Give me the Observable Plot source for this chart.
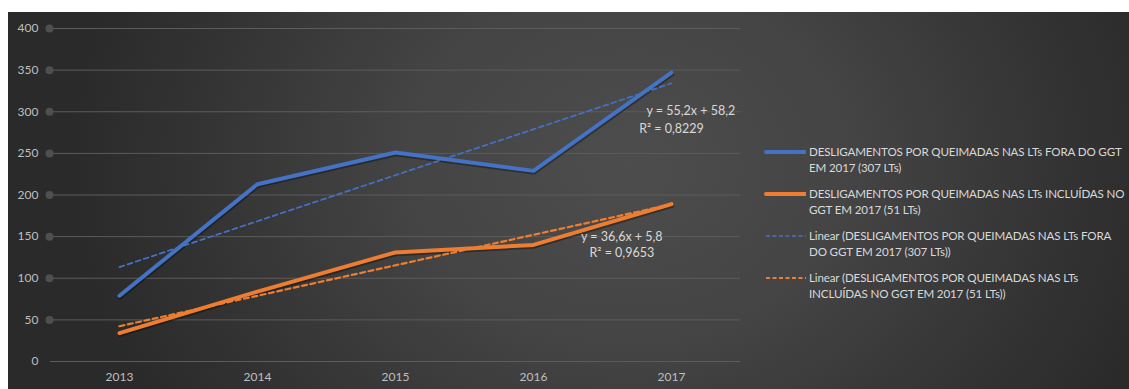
<!DOCTYPE html>
<html>
<head>
<meta charset="utf-8">
<script src="https://cdn.jsdelivr.net/npm/d3@7"></script>
<script src="https://cdn.jsdelivr.net/npm/@observablehq/plot@0.6"></script>
<style>
  html, body { margin: 0; padding: 0; background: #fff; }
  #wrap { position: absolute; left: 8px; top: 12px; width: 1121px; height: 377px;
    background: radial-gradient(ellipse 560px 460px at 620px 150px, #4d4d4d 0%, #444 40%, #343434 75%, #2a2a2a 100%);
    overflow: hidden; font-family: Lato, "Open Sans", sans-serif; }
  #legend { position: absolute; left: 756px; top: 132px; width: 365px; color: #d9d9d9; font-size: 11.6px; line-height: 16px; }
  .item { display: flex; align-items: flex-start; margin-bottom: 10px; }
  .sw { flex: none; width: 42px; height: 16px; margin-right: 3px; position: relative; }
  .sw svg { position: absolute; left: 0; top: 0; }
  .txt { flex: 1; letter-spacing: -0.15px; }
</style>
</head>
<body>
<div id="wrap"><div id="chart"></div><div id="legend"></div></div>
<script>
const years = [2013, 2014, 2015, 2016, 2017];
const foraGGT = [79, 213, 251, 229, 347];
const noGGT = [34, 84, 131, 140, 189];
const seriesNames = [
  "DESLIGAMENTOS POR QUEIMADAS NAS LTs FORA DO GGT EM 2017 (307 LTs)",
  "DESLIGAMENTOS POR QUEIMADAS NAS LTs INCLUÍDAS NO GGT EM 2017 (51 LTs)"
];
const trendNames = [
  "Linear (DESLIGAMENTOS POR QUEIMADAS NAS LTs FORA DO GGT EM 2017 (307 LTs))",
  "Linear (DESLIGAMENTOS POR QUEIMADAS NAS LTs INCLUÍDAS NO GGT EM 2017 (51 LTs))"
];
const colors = ["#4472c4", "#ed7d31"];
const yTicks = [0, 50, 100, 150, 200, 250, 300, 350, 400];
const eqLabels = [
  {x: 2017.14, y: 301, text: "y = 55,2x + 58,2"},
  {x: 2017.0, y: 279, text: "R² = 0,8229"},
  {x: 2016.64, y: 149, text: "y = 36,6x + 5,8"},
  {x: 2016.64, y: 130, text: "R² = 0,9653"}
];

const rows = [];
years.forEach((yr, i) => {
  rows.push({year: yr, value: foraGGT[i], s: 0});
  rows.push({year: yr, value: noGGT[i], s: 1});
});
const s0 = rows.filter(d => d.s === 0), s1 = rows.filter(d => d.s === 1);

const chart = Plot.plot({
  width: 1121, height: 377,
  marginLeft: 42, marginRight: 389, marginTop: 16, marginBottom: 28,
  style: {background: "transparent", fontFamily: "Lato, 'Open Sans', sans-serif", fontSize: "12px", color: "#bfbfbf"},
  x: {domain: [2012.5, 2017.5], ticks: years, tickFormat: d => String(d), tickSize: 0, tickPadding: 12},
  y: {domain: [0, 400], ticks: yTicks, tickSize: 0, tickPadding: 12},
  marks: [
    Plot.ruleY(yTicks, {stroke: "#5c5c5c", strokeWidth: 1}),
    Plot.dot(yTicks.filter(t => t > 0), {x: () => 2012.5, y: d => d, r: 4, fill: "#4f4f4f", dx: -1}),
    Plot.axisX({ticks: years, tickFormat: d => String(d), tickSize: 0, tickPadding: 11, fill: "#bfbfbf", fontSize: 12}),
    Plot.axisY({ticks: yTicks, tickSize: 0, tickPadding: 12, fill: "#bfbfbf", fontSize: 12}),
    Plot.line(s0, {x: "year", y: "value", stroke: "#000", strokeOpacity: 0.35, strokeWidth: 4.5, dy: 1.5, dx: 0.5}),
    Plot.line(s1, {x: "year", y: "value", stroke: "#000", strokeOpacity: 0.35, strokeWidth: 4.5, dy: 1.5, dx: 0.5}),
    Plot.line(s0, {x: "year", y: "value", stroke: colors[0], strokeWidth: 4, strokeLinecap: "round"}),
    Plot.line(s1, {x: "year", y: "value", stroke: colors[1], strokeWidth: 4, strokeLinecap: "round"}),
    Plot.linearRegressionY(s0, {x: "year", y: "value", stroke: colors[0], strokeWidth: 1.7, strokeDasharray: "5,3.5", ci: 0}),
    Plot.linearRegressionY(s1, {x: "year", y: "value", stroke: colors[1], strokeWidth: 2.2, strokeDasharray: "5,3.5", ci: 0}),
    Plot.text(eqLabels, {x: "x", y: "y", text: "text", fill: "#d9d9d9", fontSize: 12.5, textAnchor: "middle"})
  ]
});
document.getElementById("chart").appendChild(chart);

const legend = document.getElementById("legend");
const items = [
  {name: seriesNames[0], color: colors[0], dash: null, w: 4},
  {name: seriesNames[1], color: colors[1], dash: null, w: 4},
  {name: trendNames[0], color: colors[0], dash: "4,2.5", w: 1.7},
  {name: trendNames[1], color: colors[1], dash: "4,2.5", w: 2.2}
];
items.forEach(it => {
  const div = document.createElement("div");
  div.className = "item";
  div.innerHTML = `<div class="sw"><svg width="42" height="16"><line x1="2" x2="42" y1="8" y2="8" stroke="${it.color}" stroke-width="${it.w}" ${it.dash ? `stroke-dasharray="${it.dash}"` : 'stroke-linecap="round"'}/></svg></div><div class="txt"></div>`;
  div.querySelector(".txt").textContent = it.name;
  legend.appendChild(div);
});
</script>
</body>
</html>
